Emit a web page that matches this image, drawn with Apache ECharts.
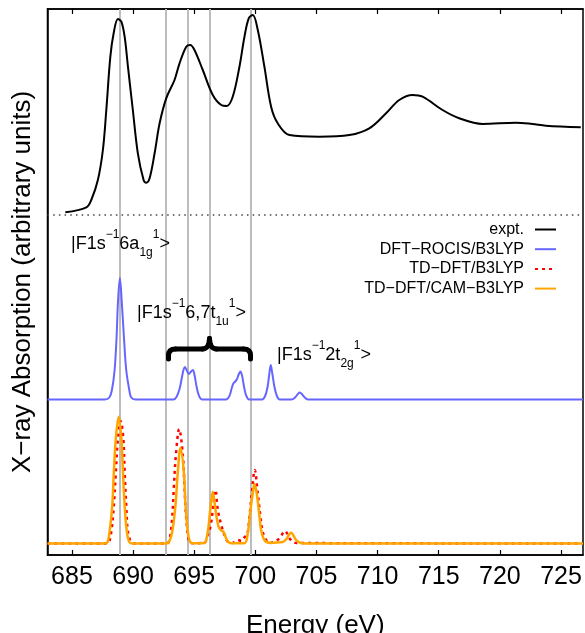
<!DOCTYPE html>
<html>
<head>
<meta charset="utf-8">
<script src="https://cdn.jsdelivr.net/npm/echarts@6/dist/echarts.min.js"></script>
<style>
html,body{margin:0;padding:0;background:#fff;}
#chart{width:585px;height:633px;}
</style>
</head>
<body>
<div id="chart"></div>
<script>
// ---- data (energy in eV, intensity in arbitrary units, curves stacked with offsets) ----
const xTicks = [685, 690, 695, 700, 705, 710, 715, 720, 725];
const guideEnergies = [688.9, 692.65, 694.5, 696.25, 699.66];
const exptBaseline = 340;

const expt = [
  [684.46,342.7],[686.18,347.7],[686.58,355],[687.12,375],[687.53,405],[687.81,445],
  [688.14,498.3],[688.41,521.7],[688.76,536],[689.04,533.3],[689.31,518.3],[689.58,488.3],
  [689.98,445],[690.39,401.7],[690.86,375],[691.08,372.3],[691.35,376.7],[691.76,401.7],
  [692.17,431.7],[692.71,456.7],[693.39,475],[693.8,491.7],[694.35,508.3],[694.67,510],
  [695.02,505],[695.7,485],[696.52,460],[697.21,450],[697.66,449],[698.15,458.3],
  [698.7,488.3],[699.11,518.3],[699.46,536.7],[699.79,540],[700.2,525],[700.74,488.3],
  [701.29,448.3],[701.83,431.7],[702.79,420],[705.24,418.3],[707.69,420],[709.32,426.7],
  [710.69,441.7],[711.77,455],[712.86,460],[713.68,458.3],[715.31,445],[716.68,436.7],
  [718.58,431],[721.31,432.3],[722.66,431],[723.76,429.3],[726.62,427.7]
];

const rocis = [
  [683,155.5],[687.7,155.5],[688.06,157.5],[688.27,165],[688.49,185],[688.65,218],[688.76,252],
  [688.92,277],[689.08,252],[689.25,218],[689.44,185],[689.69,165],[689.85,157.5],[690.2,155.5],
  [693.3,155.5],[693.55,158],[693.8,166],[694.0,178],[694.12,185],[694.23,188],[694.36,185.5],
  [694.56,181],[694.74,183.5],[694.89,185],[695.04,179],[695.2,168],[695.4,159],[695.65,155.5],
  [697.6,155.5],[697.88,159],[698.05,166],[698.2,171.5],[698.36,173.5],[698.5,176],[698.65,181],
  [698.78,183.5],[698.92,179],[699.08,168],[699.25,159.5],[699.5,155.5],
  [700.55,155.5],[700.8,159],[701.0,168],[701.14,181],[701.26,190],[701.38,182],[701.55,169],
  [701.75,159.5],[702.0,155.5],
  [702.95,155.5],[703.25,157.5],[703.48,161],[703.63,162.5],[703.8,161],[704.0,158],[704.3,155.5],
  [726.8,155.5]
];

const tdB3lyp = [
  [683,11.5],[687.7,11.5],[688.0,12.5],[688.22,23.3],[688.43,50],[688.59,83.3],[688.76,116.7],
  [688.98,134],[689.2,116.7],[689.31,83.3],[689.44,50],[689.58,23.3],[689.85,12.5],[690.1,11.5],
  [692.6,11.5],[692.9,12.5],[693.17,33.3],[693.33,66.7],[693.5,100],[693.77,126],[694.07,100],
  [694.21,66.7],[694.37,33.3],[694.62,12.5],[694.9,11.8],
  [695.84,12.3],[696.06,18.3],[696.33,28.3],[696.52,45],[696.74,65],[696.93,45],[697.25,28.3],
  [697.53,18.3],[697.75,13.3],[698.13,12],[698.56,15],[698.86,14],[699.11,17.7],[699.33,20],
  [699.52,38.3],[699.71,61.7],[699.95,85],[700.2,61.7],[700.42,38.3],[700.6,23.3],[700.88,15],
  [701.15,12],[701.56,13.3],[701.97,16.7],[702.43,24],[702.79,16.7],[703.05,13.3],[703.36,12],
  [726.8,11.5]
];

const tdCam = [
  [683,11.5],[687.6,11.5],[687.89,12.5],[688.08,23.3],[688.3,50],[688.43,83.3],[688.59,116.7],
  [688.82,138.3],[689.04,116.7],[689.17,83.3],[689.31,50],[689.49,23.3],[689.71,12.5],[690.0,11.5],
  [692.6,11.5],[692.9,12.5],[693.2,23.3],[693.47,50],[693.66,83.3],[693.88,107.3],[694.15,83.3],
  [694.29,50],[694.48,23.3],[694.7,12.5],[695.0,11.8],
  [695.84,12],[695.98,15],[696.17,28.3],[696.31,45],[696.52,63.3],[696.74,45],[696.99,28.3],
  [697.2,24.5],[697.39,23.3],[697.6,17],[697.75,13.3],[698.02,11.8],
  [699.11,11.8],[699.38,21.7],[699.6,45],[699.79,61.7],[699.93,71],[700.15,58.3],[700.34,38.3],
  [700.47,25],[700.74,15],[701.15,12.3],
  [702.24,13],[702.52,15.7],[702.92,22.3],[703.33,15],[703.6,12.7],[704,11.5],[726.8,11.5]
];

const seriesNames = ['expt.', 'DFT\u2212ROCIS/B3LYP', 'TD\u2212DFT/B3LYP', 'TD\u2212DFT/CAM\u2212B3LYP'];

// ---- chart ----
const FONT = '"Liberation Sans", Arial, Helvetica, sans-serif';
const chart = echarts.init(document.getElementById('chart'), null, {renderer: 'canvas'});

const richStyles = {
  m: {fontSize: 18, fontFamily: FONT, color: '#000', lineHeight: 30},
  sup: {fontSize: 12, fontFamily: FONT, color: '#000', lineHeight: 14, verticalAlign: 'top'},
  sub: {fontSize: 12, fontFamily: FONT, color: '#000', lineHeight: 12, verticalAlign: 'bottom'}
};
function stateLabel(x, y, core, core2) {
  return {
    type: 'text', x: x, y: y, z: 50, silent: true,
    style: {
      text: '{m||F1s}{sup|\u22121}{m|' + core + '}{sub|' + core2 + '}{sup|1}{m|>}',
      rich: richStyles, align: 'left', verticalAlign: 'middle'
    }
  };
}

// curly brace over the 6,7t1u states (annotation, pixel space)
const braceStyle = {stroke: '#000', lineWidth: 5, lineCap: 'round', fill: null};
function seg(x1, y1, x2, y2) {
  return {type: 'line', z: 50, silent: true, shape: {x1, y1, x2, y2}, style: braceStyle};
}
function quad(x1, y1, cx, cy, x2, y2) {
  return {type: 'bezierCurve', z: 50, silent: true, shape: {x1, y1, cpx1: cx, cpy1: cy, x2, y2}, style: braceStyle};
}
const brace = [
  seg(168.5, 359, 168.5, 355.5),
  quad(168.5, 355.5, 168.5, 349, 175.5, 349),
  seg(175.5, 349, 202.5, 349),
  quad(202.5, 349, 209, 349, 209.5, 338.5),
  quad(209.5, 338.5, 210, 349, 216.5, 349),
  seg(216.5, 349, 243.5, 349),
  quad(243.5, 349, 250.5, 349, 250.5, 355.5),
  seg(250.5, 355.5, 250.5, 359)
];

const option = {
  backgroundColor: '#fff',
  animation: false,
  textStyle: {fontFamily: FONT},
  grid: {
    left: 47.5, right: 2, top: 9, bottom: 78, show: true, borderColor: '#000', borderWidth: 1.5,
    backgroundColor: 'transparent', containLabel: false, outerBoundsMode: 'none'
  },
  legend: {
    orient: 'vertical', right: 23, top: 216.5, align: 'right',
    itemWidth: 21, itemHeight: 14, itemGap: 3.7,
    itemStyle: {opacity: 0},
    textStyle: {fontSize: 16, fontFamily: FONT, color: '#000', padding: [0, 6, 0, 0]},
    data: seriesNames.map(n => ({name: n}))
  },
  xAxis: [{
    type: 'value', position: 'bottom', min: 683, max: 726.8,
    axisLine: {show: true, lineStyle: {color: '#000', width: 1.5}},
    axisTick: {show: true, inside: true, length: 5, customValues: xTicks, lineStyle: {color: '#000', width: 1.2}},
    axisLabel: {show: true, customValues: xTicks, fontSize: 25, fontFamily: FONT, color: '#000', margin: 10},
    splitLine: {show: false},
    name: 'Energy (eV)', nameLocation: 'middle', nameGap: 58,
    nameTextStyle: {fontSize: 26, fontFamily: FONT, color: '#000'}
  }, {
    type: 'value', position: 'top', min: 683, max: 726.8,
    axisLine: {show: true, lineStyle: {color: '#000', width: 1.5}},
    axisTick: {show: true, inside: true, length: 5, customValues: xTicks, lineStyle: {color: '#000', width: 1.2}},
    axisLabel: {show: false, customValues: xTicks},
    splitLine: {show: false}
  }],
  yAxis: {
    type: 'value', min: 0, max: 546,
    axisLine: {show: true, lineStyle: {color: '#000', width: 1.5}},
    axisTick: {show: false}, axisLabel: {show: false}, splitLine: {show: false},
    name: 'X\u2212ray Absorption (arbitrary units)', nameLocation: 'middle', nameGap: 12,
    nameTextStyle: {fontSize: 26, fontFamily: FONT, color: '#000'}
  },
  series: [
    {
      name: 'guides', type: 'line', data: [], z: 1, silent: true,
      markLine: {
        z: 1, silent: true, symbol: ['none', 'none'], label: {show: false}, animation: false,
        lineStyle: {color: '#bdbdbd', width: 2, type: 'solid'},
        emphasis: {disabled: true},
        data: guideEnergies.map(v => ({xAxis: v})).concat([
          {yAxis: exptBaseline, lineStyle: {color: '#444', width: 1.5, type: [1.5, 4.2]}}
        ])
      }
    },
    {
      name: seriesNames[0], type: 'line', data: expt, symbol: 'none', smooth: 0.35, z: 3,
      lineStyle: {color: '#000', width: 2}, itemStyle: {color: '#000'}
    },
    {
      name: seriesNames[1], type: 'line', data: rocis, symbol: 'none', smooth: 0.35, z: 3,
      lineStyle: {color: '#6666ff', width: 2}, itemStyle: {color: '#6666ff'}
    },
    {
      name: seriesNames[2], type: 'line', data: tdB3lyp, symbol: 'none', smooth: 0.35, z: 3,
      lineStyle: {color: '#ff0000', width: 2.5, type: [3, 4]}, itemStyle: {color: '#ff0000'}
    },
    {
      name: seriesNames[3], type: 'line', data: tdCam, symbol: 'none', smooth: 0.35, z: 4,
      lineStyle: {color: '#ffa500', width: 2.5}, itemStyle: {color: '#ffa500'}
    }
  ],
  graphic: [
    stateLabel(71, 244, '6a', '1g'),
    stateLabel(137, 313, '6,7t', '1u'),
    stateLabel(277, 355, '2t', '2g')
  ].concat(brace)
};
chart.setOption(option);
</script>
</body>
</html>
